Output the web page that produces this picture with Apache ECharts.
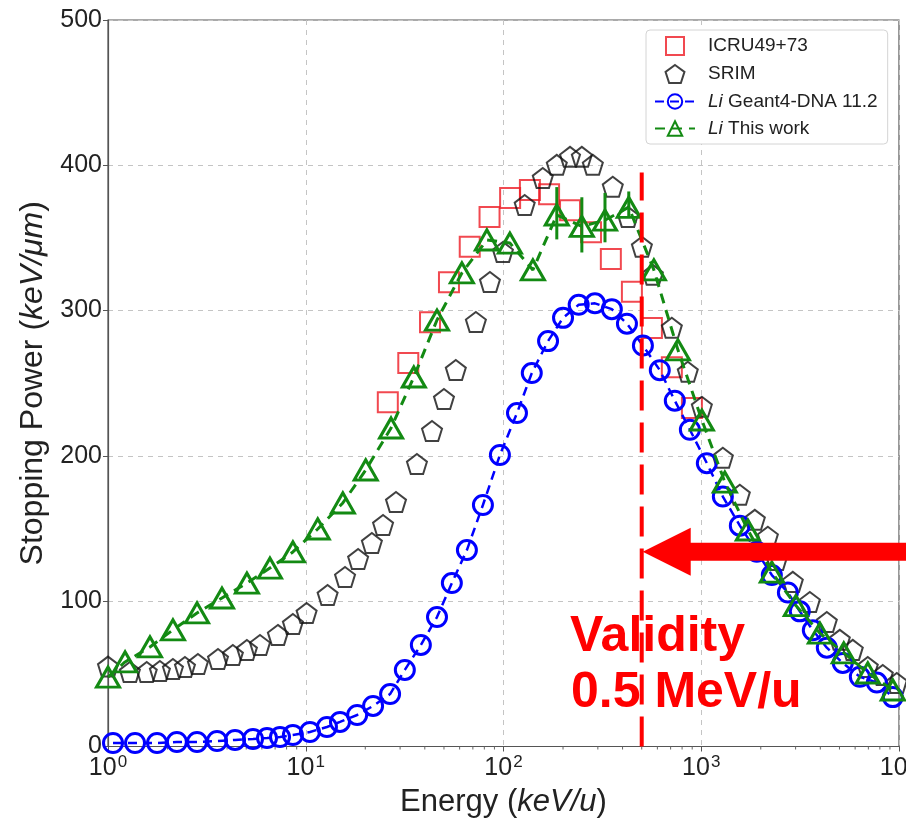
<!DOCTYPE html>
<html>
<head>
<meta charset="utf-8">
<script src="https://cdn.jsdelivr.net/npm/echarts@6/dist/echarts.min.js"></script>
<style>
  html, body { margin: 0; padding: 0; background: #fff; }
  #chart { width: 906px; height: 819px; }
</style>
</head>
<body>
<div id="chart"></div>
<script>
// ICRU49+73 tabulated electronic stopping power (keV/um) vs energy (keV/u)
const icruEnergy = [26, 33, 42.5, 53, 67.5, 85, 108, 136, 170, 217, 277, 349, 446, 563, 710, 897];
const icruPower  = [237, 264, 292, 319.5, 344, 364.5, 377.5, 383, 380, 369, 354, 335.5, 313, 288, 261, 233];

// SRIM stopping power
const srimEnergy = [1.0, 1.29, 1.57, 1.83, 2.13, 2.45, 2.85, 3.6, 4.28, 5.04, 5.87, 7.23, 8.61, 10.1,
  12.9, 15.8, 18.4, 21.6, 24.6, 28.6, 36.5, 43.5, 50, 57.4, 72.5, 85.4, 99.3, 128, 158, 186, 217, 249,
  283, 357, 426, 501, 569, 710, 855, 1007, 1286, 1567, 1866, 2172, 2412, 2904, 3541, 4315, 5020, 5838,
  6953, 8280, 9748];
const srimPower  = [55, 51.3, 51.3, 52, 53.3, 54.7, 56.8, 60.2, 63, 66.4, 69.9, 76.8, 84.3, 91.9,
  104.3, 116.7, 129, 140, 152.4, 168.3, 194.4, 217.1, 239.2, 259.1, 292.2, 319.7, 340.4, 372.7, 391.3,
  400.3, 405.8, 405.8, 400.3, 385.2, 364.5, 343.9, 324.6, 288.2, 257.9, 233.8, 198.7, 173.3, 156, 144.4,
  128.4, 113.3, 99.5, 85.7, 73.4, 66.5, 54.7, 49.2, 43.7];

// Li in Geant4-DNA 11.2
const g4Energy = [1.06, 1.37, 1.77, 2.23, 2.82, 3.56, 4.39, 5.41, 6.37, 7.41, 8.61, 10.5, 12.8, 14.9,
  18.2, 21.9, 26.7, 31.7, 38.2, 46.1, 54.8, 65.3, 78.7, 95.9, 117, 139, 168, 200, 240, 290, 353, 421,
  507, 617, 735, 876, 1067, 1286, 1567, 1910, 2275, 2742, 3150, 3666, 4315, 5196, 6339, 7723, 9303];
const g4Power  = [2.4, 2.4, 2.4, 3.1, 3.1, 3.8, 4.5, 5.2, 5.8, 6.5, 7.9, 10, 13.4, 16.9, 21.7, 27.9,
  36.1, 52.7, 69.9, 89.1, 112.5, 135.2, 166.2, 200.6, 229.5, 257, 279, 295, 304, 305, 301, 291, 276,
  259, 238, 218, 195, 172, 152, 134, 118, 106, 93, 80, 68, 57.5, 48, 44, 34];

// Li, this work
const workEnergy = [1.0, 1.22, 1.63, 2.13, 2.82, 3.77, 5.04, 6.59, 8.61, 11.5, 15.4, 20.1, 27.0, 35.2,
  46.1, 61.6, 82.4, 107.7, 140.8, 186, 249, 326, 430, 576, 762, 1007, 1316, 1721, 2275, 3009, 3981,
  5257, 6953, 9303];
const workPower  = [47.8, 58.2, 68.5, 80.2, 91.9, 102.2, 112.5, 122.8, 133.9, 149.7, 167.6, 190.3,
  219.2, 254.3, 293.5, 325.9, 348.6, 346.5, 328, 365.8, 358, 362.2, 371.1, 328, 273, 224.7, 182, 149,
  120, 97, 78, 64.4, 50.6, 38.9];
// uncertainty bands on the peak points of this work
const workErrEnergy = [186, 249, 326, 430];
const workErrLow    = [349, 340, 347, 364];
const workErrHigh   = [385, 378, 381, 382];

// validity limit of the model
const validityEnergy = 500;     // keV/u
const validityTop = 395;        // keV/um, top of the marker line
const arrowLevel = 134;         // keV/um, height of the arrow

const xTickDecades = [0, 1, 2, 3, 4];

const pairs = (xs, ys) => xs.map((x, i) => [x, ys[i]]);

const PENTAGON = 'path://M0,-1L0.9511,-0.309L0.5878,0.809L-0.5878,0.809L-0.9511,-0.309Z';
const SQUARE = 'path://M0,0L1,0L1,1L0,1Z';
const FONT = '"Liberation Sans", Arial, Helvetica, sans-serif';
const INK = '#222';

// log-spaced minor ticks on the energy axis
const minorTicks = [];
for (let k = 0; k < xTickDecades.length - 1; k++) {
  for (let m = 2; m <= 9; m++) minorTicks.push([m * Math.pow(10, xTickDecades[k]), 0]);
}

const titleRich = size => ({
  n: { fontSize: size, color: INK, fontFamily: FONT },
  i: { fontSize: size, color: INK, fontStyle: 'italic', fontFamily: FONT }
});

const chart = echarts.init(document.getElementById('chart'), null, { renderer: 'canvas' });

const option = {
  animation: false,
  backgroundColor: '#fff',
  textStyle: { fontFamily: FONT },
  grid: {
    left: 108, top: 20, right: 7, bottom: 72.5,
    containLabel: false, outerBoundsMode: 'none',
    show: true, borderColor: '#555', borderWidth: 1.2, backgroundColor: 'transparent'
  },
  legend: {
    data: [
      { name: 'ICRU49+73', icon: SQUARE },
      { name: 'SRIM', icon: PENTAGON },
      { name: 'Li Geant4-DNA 11.2' },
      { name: 'Li This work' }
    ],
    orient: 'vertical',
    left: 646, top: 30,
    padding: [6, 10, 6, 8],
    itemWidth: 40, itemHeight: 18, itemGap: 8,
    symbolKeepAspect: true,
    backgroundColor: '#fff',
    borderColor: '#d4d4d4', borderWidth: 1, borderRadius: 4,
    formatter: name => name.startsWith('Li ') ? '{i|Li}' + name.slice(2) : name,
    textStyle: {
      fontSize: 19, color: INK, fontFamily: FONT, padding: [0, 0, 0, 8],
      rich: { i: { fontStyle: 'italic', fontSize: 19, color: INK, fontFamily: FONT } }
    }
  },
  xAxis: {
    type: 'log', logBase: 10, min: 1, max: 10000,
    name: '{n|Energy (}{i|keV/u}{n|)}',
    nameLocation: 'middle', nameGap: 40,
    nameTextStyle: { rich: titleRich(31) },
    axisLine: { show: true, lineStyle: { color: '#555', width: 1.2 } },
    axisTick: { show: true, inside: false, length: 5, lineStyle: { color: '#555' } },
    axisLabel: {
      margin: 7,
      formatter: v => '{b|10}{s|' + Math.round(Math.log10(v)) + '}',
      rich: {
        b: { fontSize: 25, color: INK, fontFamily: FONT },
        s: { fontSize: 17, color: INK, fontFamily: FONT, padding: [0, 0, 13, 1] }
      }
    },
    splitLine: { show: true, lineStyle: { color: '#c4c4c4', type: [5, 5], width: 1 } },
    minorTick: { show: false },
    minorSplitLine: { show: false }
  },
  yAxis: {
    type: 'value', min: 0, max: 500, interval: 100,
    name: '{n|Stopping Power (}{i|keV/μm}{n|)}',
    nameLocation: 'middle', nameGap: 56, nameRotate: 90,
    nameTextStyle: { rich: titleRich(32) },
    axisLine: { show: true, lineStyle: { color: '#555', width: 1.2 } },
    axisTick: { show: true, inside: false, length: 5, lineStyle: { color: '#555' } },
    axisLabel: { fontSize: 25, color: INK, margin: 6, fontFamily: FONT },
    splitLine: { show: true, lineStyle: { color: '#c4c4c4', type: [5, 5], width: 1 } }
  },
  series: [
    {
      name: 'ICRU49+73', type: 'scatter', z: 3,
      data: pairs(icruEnergy, icruPower),
      symbol: 'rect', symbolSize: 20,
      itemStyle: { color: 'transparent', borderColor: '#ee1c24', borderWidth: 2 }
    },
    {
      name: 'SRIM', type: 'scatter', z: 4,
      data: pairs(srimEnergy, srimPower),
      symbol: PENTAGON, symbolSize: 20,
      itemStyle: { color: 'transparent', borderColor: '#111', borderWidth: 2 }
    },
    {
      name: 'Li Geant4-DNA 11.2', type: 'line', z: 5,
      data: pairs(g4Energy, g4Power),
      symbol: 'circle', symbolSize: 19, showAllSymbol: true,
      lineStyle: { color: '#0000ff', width: 2.5, type: [9, 6] },
      itemStyle: { color: 'transparent', borderColor: '#0000ff', borderWidth: 3 }
    },
    {
      name: 'Li This work', type: 'line', z: 6,
      data: pairs(workEnergy, workPower),
      symbol: 'triangle', symbolSize: [23, 20], showAllSymbol: true,
      lineStyle: { color: '#138a13', width: 3, type: [10, 7] },
      itemStyle: { color: 'transparent', borderColor: '#138a13', borderWidth: 3 }
    },
    {
      name: 'work-error', type: 'custom', z: 6, silent: true,
      data: workErrEnergy.map((e, i) => [e, workErrLow[i], workErrHigh[i]]),
      renderItem: (params, api) => {
        const lo = api.coord([api.value(0), api.value(1)]);
        const hi = api.coord([api.value(0), api.value(2)]);
        return {
          type: 'line',
          shape: { x1: lo[0], y1: lo[1], x2: hi[0], y2: hi[1] },
          style: { stroke: '#138a13', lineWidth: 3 }
        };
      }
    },
    {
      name: 'minor-ticks', type: 'custom', z: 2, silent: true, clip: false,
      data: minorTicks,
      renderItem: (params, api) => {
        const p = api.coord([api.value(0), 0]);
        return {
          type: 'line',
          shape: { x1: p[0], y1: p[1], x2: p[0], y2: p[1] + 3 },
          style: { stroke: '#666', lineWidth: 1 }
        };
      }
    },
    {
      name: 'validity', type: 'line', z: 10, silent: true,
      data: [[validityEnergy, 0], [validityEnergy, validityTop]],
      symbol: 'none',
      lineStyle: { color: '#ff0000', width: 4, type: [30, 12] }
    }
  ]
};

chart.setOption(option);

// arrow and label pointing at the validity limit
const tip = chart.convertToPixel({ gridIndex: 0 }, [validityEnergy, arrowLevel]);
const W = chart.getWidth();
const tx = tip[0] + 1, ty = tip[1];
chart.setOption({
  graphic: [
    {
      type: 'polygon', z: 100,
      shape: {
        points: [
          [tx, ty], [tx + 48, ty - 24], [tx + 48, ty - 9], [W + 5, ty - 9],
          [W + 5, ty + 9], [tx + 48, ty + 9], [tx + 48, ty + 24]
        ]
      },
      style: { fill: '#ff0000' }
    },
    {
      type: 'text', z: 100, left: 570, top: 612,
      style: { text: 'Validity', fill: '#ff0000', font: 'bold 50px ' + FONT }
    },
    {
      type: 'text', z: 100, left: 571, top: 668,
      style: { text: '0.5 MeV/u', fill: '#ff0000', font: 'bold 50px ' + FONT }
    }
  ]
});
</script>
</body>
</html>
